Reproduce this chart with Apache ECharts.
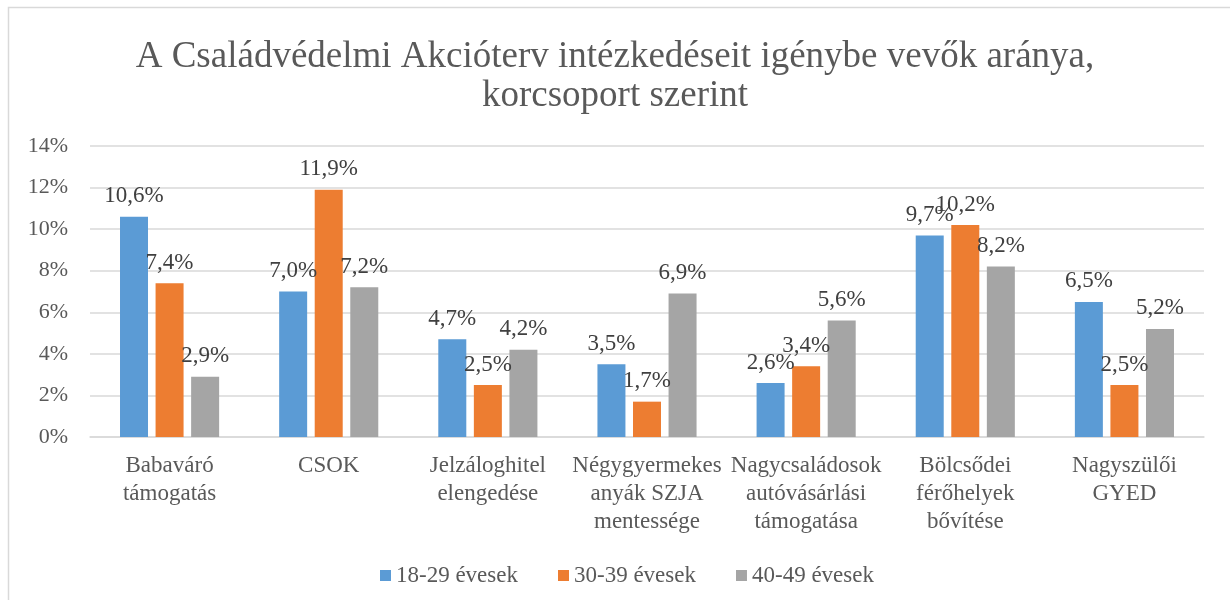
<!DOCTYPE html>
<html>
<head>
<meta charset="utf-8">
<script src="https://cdn.jsdelivr.net/npm/echarts@6/dist/echarts.min.js"></script>
<style>
  html, body { margin: 0; padding: 0; background: #fff; }
  #chart { width: 1230px; height: 600px; }
</style>
</head>
<body>
<div id="chart"></div>
<script>
// categories (line breaks as in the original axis labels)
const categories = [
  'Babaváró\ntámogatás',
  'CSOK',
  'Jelzáloghitel\nelengedése',
  'Négygyermekes\nanyák SZJA\nmentessége',
  'Nagycsaládosok\nautóvásárlási\ntámogatása',
  'Bölcsődei\nférőhelyek\nbővítése',
  'Nagyszülői\nGYED'
];

// percentages per age group
const age18to29 = [10.6, 7.0, 4.7, 3.5, 2.6, 9.7, 6.5];
const age30to39 = [7.4, 11.9, 2.5, 1.7, 3.4, 10.2, 2.5];
const age40to49 = [2.9, 7.2, 4.2, 6.9, 5.6, 8.2, 5.2];

const seriesNames = ['18-29 évesek', '30-39 évesek', '40-49 évesek'];
const seriesColors = ['#5B9BD5', '#ED7D31', '#A5A5A5'];

const FONT = '"Liberation Serif", "Times New Roman", serif';

function fmt(v) {
  return v.toFixed(1).replace('.', ',') + '%';
}

function makeSeries(name, data, color) {
  return {
    name: name,
    type: 'bar',
    data: data,
    barWidth: 28,
    barGap: '27%',
    itemStyle: { color: color },
    label: {
      show: true,
      position: 'top',
      distance: 9,
      formatter: p => fmt(p.value),
      fontFamily: FONT,
      fontSize: 23,
      color: '#404040'
    }
  };
}

const chart = echarts.init(document.getElementById('chart'), null, { renderer: 'canvas' });

chart.setOption({
  backgroundColor: '#fff',
  animation: false,
  textStyle: { fontFamily: FONT },
  title: {
    text: 'A Családvédelmi Akcióterv intézkedéseit igénybe vevők aránya,\nkorcsoport szerint',
    left: 'center',
    top: 33,
    textStyle: {
      fontFamily: FONT,
      fontSize: 37,
      lineHeight: 39,
      fontWeight: 'normal',
      color: '#595959'
    }
  },
  legend: {
    top: 559,
    left: 375,
    itemWidth: 11,
    itemHeight: 11,
    itemGap: 40,
    icon: 'rect',
    textStyle: { fontFamily: FONT, fontSize: 23, color: '#595959' },
    data: seriesNames
  },
  grid: {
    left: 90,
    right: 26,
    top: 146,
    bottom: 163,
    containLabel: false
  },
  xAxis: {
    type: 'category',
    data: categories,
    axisLine: { show: true, lineStyle: { color: '#D9D9D9', width: 1.5 } },
    axisTick: { show: false },
    axisLabel: {
      interval: 0,
      margin: 15,
      fontFamily: FONT,
      fontSize: 23,
      lineHeight: 28,
      color: '#595959'
    }
  },
  yAxis: {
    type: 'value',
    min: 0,
    max: 14,
    interval: 2,
    axisLine: { show: false },
    axisTick: { show: false },
    splitLine: { lineStyle: { color: '#D9D9D9', width: 1.5 } },
    axisLabel: {
      formatter: '{value}%',
      margin: 22,
      fontFamily: FONT,
      fontSize: 22,
      color: '#595959'
    }
  },
  graphic: [{
    type: 'rect',
    shape: { x: 8.5, y: 7.5, width: 1240, height: 620 },
    style: { fill: 'none', stroke: '#D9D9D9', lineWidth: 1.5 },
    silent: true
  }],
  series: [
    makeSeries(seriesNames[0], age18to29, seriesColors[0]),
    makeSeries(seriesNames[1], age30to39, seriesColors[1]),
    makeSeries(seriesNames[2], age40to49, seriesColors[2])
  ]
});
</script>
</body>
</html>
